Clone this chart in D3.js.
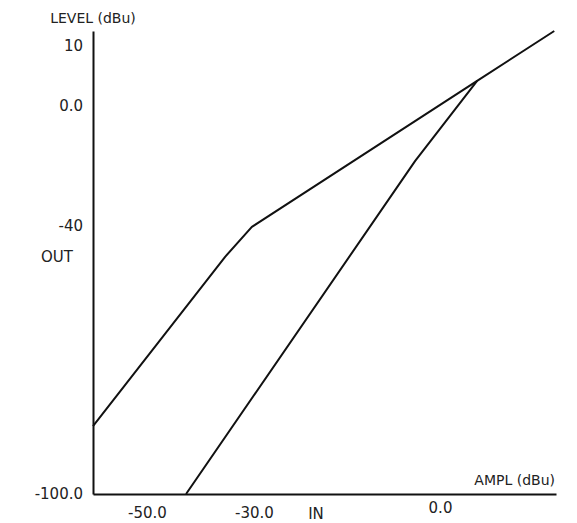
<!DOCTYPE html>
<html>
<head>
<meta charset="utf-8">
<script src="https://cdn.jsdelivr.net/npm/d3@7"></script>
<style>
  html, body { margin: 0; padding: 0; background: #fff; }
  svg text { font-family: "DejaVu Sans", sans-serif; fill: #222; }
</style>
</head>
<body>
<svg id="chart" width="577" height="523"></svg>
<script>
// ---- data ----
const xTickValues = [-50, -30, 0];
const xTickLabels = ["-50.0", "-30.0", "0.0"];
const yTickValues = [10, 0, -40, -100];
const yTickLabels = ["10", "0.0", "-40", "-100.0"];

// compressor curve (IN dBu -> OUT dBu)
const upperIn  = [-60, -35.4, -30.4, 6.4, 19.7];
const upperOut = [-84.8, -46.9, -40.2, 4.2, 12.5];
// linear/expander curve
const lowerIn  = [-42.7, -4.0, 6.4];
const lowerOut = [-100, -18.3, 4.2];

const axisTitleY = "LEVEL (dBu)";
const axisTitleX = "AMPL (dBu)";
const sideLabelY = "OUT";
const sideLabelX = "IN";

// ---- scales (schematic, piecewise) ----
const x = d3.scaleLinear()
  .domain([-60, -50, -30, 0, 20])
  .range([93, 147, 254, 440, 556]);
const y = d3.scaleLinear()
  .domain([-100, -40, 0, 10, 12.5])
  .range([494, 226, 106, 46, 31]);

const svg = d3.select("#chart");

// y axis
const yAxis = d3.axisLeft(y)
  .tickValues(yTickValues)
  .tickSize(0)
  .tickSizeOuter(0)
  .tickPadding(10)
  .tickFormat((d, i) => yTickLabels[i]);
const gy = svg.append("g").attr("transform", `translate(${x(-60)},0)`).call(yAxis);
gy.select(".domain").attr("stroke", "#111").attr("stroke-width", 2);
gy.selectAll("text").style("font-size", "15px").attr("fill", "#222");

// x axis
const xAxis = d3.axisBottom(x)
  .tickValues(xTickValues)
  .tickSize(0)
  .tickSizeOuter(0)
  .tickPadding(13)
  .tickFormat((d, i) => xTickLabels[i]);
const gx = svg.append("g").attr("transform", `translate(0,${y(-100)})`).call(xAxis);
gx.select(".domain").attr("stroke", "#111").attr("stroke-width", 2);
gx.selectAll("text").style("font-size", "15px").attr("fill", "#222");
gx.selectAll(".tick").filter(d => d === 0).select("text").attr("y", 8);

// curves
const line = d3.line().x(d => x(d[0])).y(d => y(d[1]));
const series = [
  d3.zip(upperIn, upperOut),
  d3.zip(lowerIn, lowerOut)
];
svg.append("g").selectAll("path.curve")
  .data(series)
  .join("path")
  .attr("class", "curve")
  .attr("d", line)
  .attr("fill", "none")
  .attr("stroke", "#111")
  .attr("stroke-width", 2)
  .attr("stroke-linejoin", "round");

// titles
svg.append("text").attr("x", x(-60)).attr("y", 23)
  .attr("text-anchor", "middle").style("font-size", "14px").text(axisTitleY);
svg.append("text").attr("x", 555).attr("y", 485)
  .attr("text-anchor", "end").style("font-size", "14px").text(axisTitleX);
svg.append("text").attr("x", 73).attr("y", 262)
  .attr("text-anchor", "end").style("font-size", "15px").text(sideLabelY);
svg.append("text").attr("x", 316).attr("y", 519)
  .attr("text-anchor", "middle").style("font-size", "15px").text(sideLabelX);
</script>
</body>
</html>
